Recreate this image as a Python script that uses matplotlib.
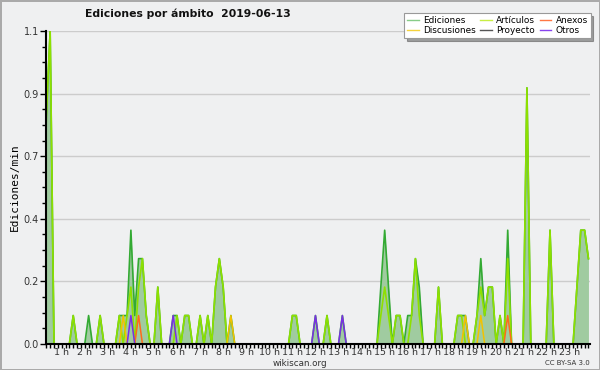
import numpy as np
import matplotlib
matplotlib.use("Agg")
from matplotlib import pyplot as plt

# 10-minute bins, values in edits per minute
bin_minutes = list(range(0, 1440, 10))

ediciones_min = [20, 30, 90, 130, 160, 210, 220, 230, 240, 250, 260, 270, 280,
                 310, 350, 360, 380, 390, 420, 440, 460, 470, 480, 500,
                 660, 670, 720, 750, 790, 890, 900, 910, 930, 940,
                 960, 970, 980, 990, 1040, 1090, 1100, 1110,
                 1140, 1150, 1160, 1170, 1180, 1200, 1220, 1270, 1330,
                 1400, 1410, 1420, 1430]
ediciones_val = [0.8, 1.1, 0.1, 0.1, 0.1, 0.1, 0.1, 0.1, 0.4, 0.1, 0.3, 0.3, 0.1,
                 0.2, 0.1, 0.1, 0.1, 0.1, 0.1, 0.1, 0.2, 0.3, 0.2, 0.1,
                 0.1, 0.1, 0.1, 0.1, 0.1, 0.2, 0.4, 0.2, 0.1, 0.1,
                 0.1, 0.1, 0.3, 0.2, 0.2, 0.1, 0.1, 0.1,
                 0.1, 0.3, 0.1, 0.2, 0.2, 0.1, 0.4, 0.9, 0.4,
                 0.2, 0.4, 0.4, 0.3]

articulos_min = [20, 30, 90, 160, 210, 230, 240, 260, 270, 280, 310, 360,
                 380, 390, 420, 440, 460, 470, 480, 660, 670, 750,
                 890, 900, 910, 930, 940, 970, 980, 990, 1040, 1090, 1100,
                 1140, 1150, 1160, 1170, 1180, 1200, 1220, 1270, 1330,
                 1400, 1410, 1420, 1430]
articulos_val = [0.8, 1.1, 0.1, 0.1, 0.1, 0.1, 0.2, 0.2, 0.3, 0.1, 0.2, 0.1,
                 0.1, 0.1, 0.1, 0.1, 0.2, 0.3, 0.2, 0.1, 0.1, 0.1,
                 0.1, 0.2, 0.1, 0.1, 0.1, 0.1, 0.3, 0.1, 0.2, 0.1, 0.1,
                 0.1, 0.2, 0.1, 0.2, 0.2, 0.1, 0.3, 0.9, 0.4,
                 0.2, 0.4, 0.4, 0.3]

discusiones_min = [220, 500, 1110, 1150]
discusiones_val = [0.1, 0.1, 0.1, 0.1]
anexos_min = [260, 1220]
anexos_val = [0.1, 0.1]
otros_min = [240, 350, 720, 790]
otros_val = [0.1, 0.1, 0.1, 0.1]
proyecto_min = []
proyecto_val = []

hour_ticks = list(range(1, 24))
hour_labels = ["%d h" % h for h in hour_ticks]
y_ticks = [0.0, 0.22, 0.44, 0.66, 0.88, 1.1]
y_labels = ["0.0", "0.2", "0.4", "0.7", "0.9", "1.1"]


def to_series(mins, vals):
    s = np.zeros(len(bin_minutes))
    for m, v in zip(mins, vals):
        s[bin_minutes.index(m)] = v
    return s


hours = np.array(bin_minutes) / 60.0
ed = to_series(ediciones_min, ediciones_val)
art = to_series(articulos_min, articulos_val)
dis = to_series(discusiones_min, discusiones_val)
anx = to_series(anexos_min, anexos_val)
otr = to_series(otros_min, otros_val)
pro = to_series(proyecto_min, proyecto_val)

bg = "#eff0f1"
fig = plt.figure(figsize=(6, 3.7), dpi=100, facecolor=bg,
                 edgecolor="#aaaaaa", linewidth=2)
ax = fig.add_axes([46/600, 26/370, 544/600, 313/370])
ax.set_facecolor(bg)

ax.fill_between(hours, ed, color="#a0cba0", lw=0, zorder=2)
ax.plot(hours, ed, color="#33aa33", lw=1.2, zorder=3)
ax.plot(hours, pro, color="#555555", lw=1.1, zorder=4)
ax.plot(hours, art, color="#8ee000", lw=1.2, zorder=4)
ax.plot(hours, dis, color="#f2c200", lw=1.1, zorder=5)
ax.plot(hours, anx, color="#ff6a1a", lw=1.1, zorder=5)
ax.plot(hours, otr, color="#7a2ee6", lw=1.1, zorder=6)

ax.set_xlim(0.32, 23.9)
ax.set_ylim(0, 1.1)
ax.set_yticks(y_ticks)
ax.set_yticklabels(y_labels)
ax.set_yticks(np.arange(0, 1.1, 0.055), minor=True)
ax.set_xticks(hour_ticks)
ax.set_xticklabels(hour_labels)
ax.set_xticks(np.arange(2, 144) / 6.0, minor=True)
ax.grid(axis="y", color="#cccccc", lw=1, zorder=1)
ax.tick_params(axis="y", which="major", labelsize=7, labelcolor="#333333",
               length=4, width=1, pad=1)
ax.tick_params(axis="x", which="major", labelsize=6.8, labelcolor="#333333",
               length=3, width=1, pad=0)
ax.tick_params(axis="both", which="minor", length=3, width=1)
for side in ["top", "right"]:
    ax.spines[side].set_visible(False)
for side in ["left", "bottom"]:
    ax.spines[side].set_linewidth(1.5)
    ax.spines[side].set_zorder(10)
ax.set_ylabel("Ediciones/min", family="DejaVu Sans Mono", fontsize=8, labelpad=3)

fig.text(85/600, 1 - 14/370, "Ediciones por ámbito  2019-06-13",
         fontsize=7.8, weight="bold", va="center", color="#111111")
fig.text(0.5, 1 - 363/370, "wikiscan.org", fontsize=6.3, ha="center",
         va="center", color="#333333")
fig.text(590/600, 1 - 363/370, "CC BY-SA 3.0", fontsize=5, ha="right",
         va="center", color="#333333")

handles = [
    plt.Line2D([], [], color="#88cc88", lw=1),
    plt.Line2D([], [], color="#f5d23c", lw=1),
    plt.Line2D([], [], color="#c8ee44", lw=1),
    plt.Line2D([], [], color="#555555", lw=1),
    plt.Line2D([], [], color="#ff7744", lw=1),
    plt.Line2D([], [], color="#8844ee", lw=1),
]
labels = ["Ediciones", "Discusiones", "Artículos", "Proyecto", "Anexos", "Otros"]
leg = fig.legend(handles, labels, ncol=3, loc="upper right",
                 bbox_to_anchor=(595/600, 1 - 9/370), fontsize=6.4,
                 handlelength=1.3, handletextpad=0.5, columnspacing=0.5,
                 labelspacing=0.15, borderpad=0.3, fancybox=False, shadow=True,
                 framealpha=1, edgecolor="#999999")
leg.get_frame().set_linewidth(0.8)

plt.savefig("out.png", dpi=100, facecolor=bg)
